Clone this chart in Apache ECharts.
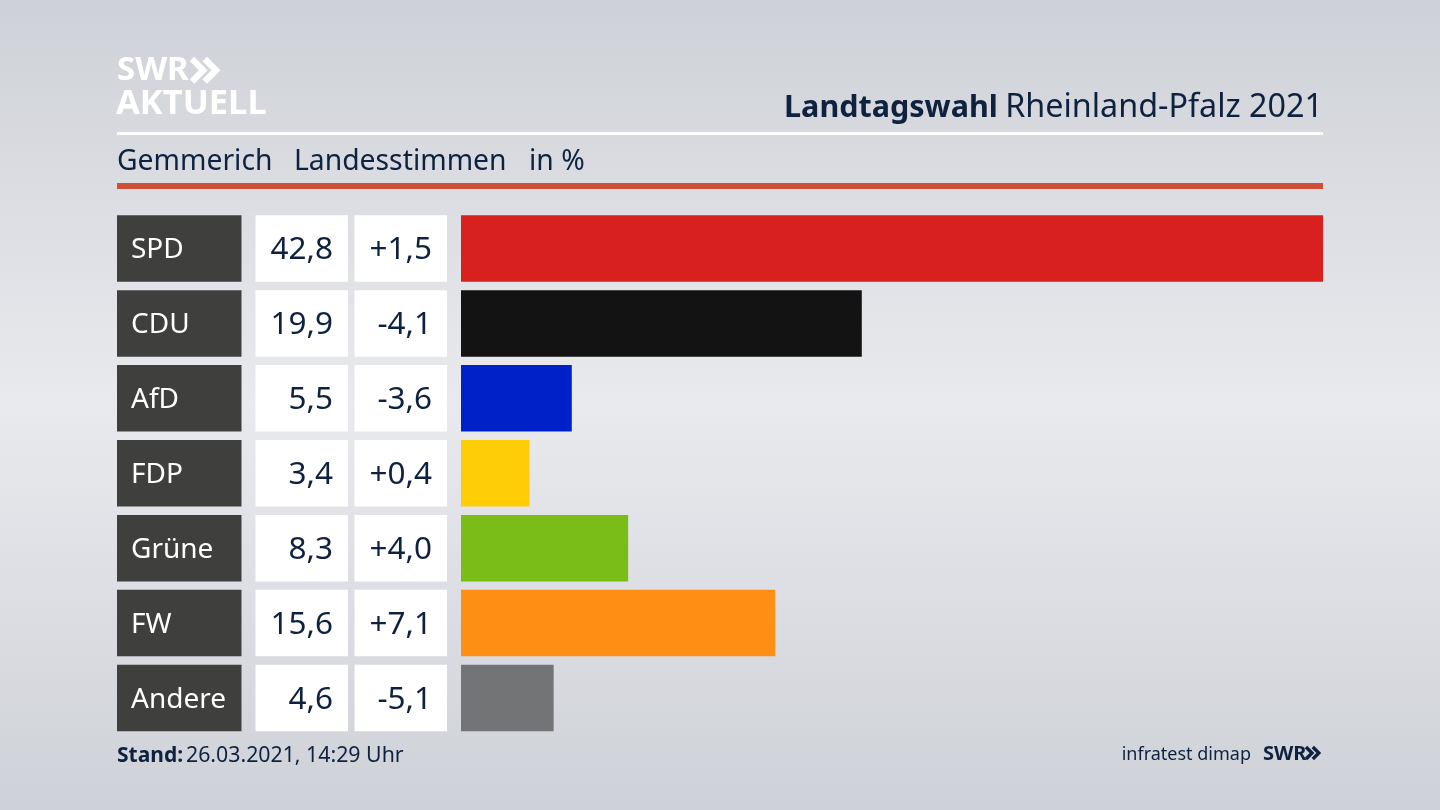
<!DOCTYPE html>
<html><head><meta charset="utf-8">
<style>html,body{margin:0;padding:0;width:1440px;height:810px;overflow:hidden}#c{width:1440px;height:810px}</style>
<script src="https://cdn.jsdelivr.net/npm/echarts@6/dist/echarts.min.js"></script>
</head><body><div id="c"></div>
<script>
const parties=['SPD','CDU','AfD','FDP','Grüne','FW','Andere'];
const shares=[42.8,19.9,5.5,3.4,8.3,15.6,4.6];
const shareLabels=['42,8','19,9','5,5','3,4','8,3','15,6','4,6'];
const changeLabels=['+1,5','-4,1','-3,6','+0,4','+4,0','+7,1','-5,1'];
const barColors=['#d8201f','#131313','#0020c8','#ffcc08','#7abd18','#ff8f14','#737476'];
const ink='#0e2240';
const font='"Noto Sans"';
const chart=echarts.init(document.getElementById('c'),null,{renderer:'canvas'});
const top0=211,h=524.5,bw=66.5;
function cell(i,left,width,color,labels,txt,pos,size,dist){
  return {grid:{left,width,top:top0,height:h},
    x:{type:'value',gridIndex:i,min:0,max:1,show:false},
    y:{type:'category',gridIndex:i,inverse:true,data:parties,show:false},
    s:{type:'bar',xAxisIndex:i,yAxisIndex:i,barWidth:bw,silent:true,animation:false,
      data:labels.map(()=>1),itemStyle:{color},
      label:{show:true,position:pos,distance:dist,offset:[0,2],color:txt,fontFamily:font,fontSize:size,
        formatter:p=>labels[p.dataIndex]}}};
}
const cells=[
  cell(1,117,124.5,'#3f403e',parties,'#fff','insideLeft',28,14),
  cell(2,255.5,92.5,'#fff',shareLabels,ink,'insideRight',31.5,15),
  cell(3,354.5,92.5,'#fff',changeLabels,ink,'insideRight',31.5,15)
];
function chevrons(x,y,s,color){
  return [0,1].map(k=>({type:'polyline',silent:true,
    shape:{points:[[x+k*s*0.85,y],[x+k*s*0.85+s*0.75,y+s*0.75],[x+k*s*0.85,y+s*1.5]]},
    style:{stroke:color,lineWidth:s*0.42,fill:null}}));
}
const txt=(x,y,text,size,color,weight,align)=>({type:'text',x,y,silent:true,
  style:{text,fontSize:size,fontFamily:font,fontWeight:weight||'normal',fill:color,align:align||'left',verticalAlign:'middle'}});
const rect=(x,y,width,height,fill)=>({type:'rect',silent:true,shape:{x,y,width,height},style:{fill}});
chart.setOption({
  animation:false,
  backgroundColor:new echarts.graphic.LinearGradient(0,0,0,1,[
    {offset:0,color:'#ced1d7'},{offset:0.5,color:'#e9eaee'},{offset:1,color:'#ced1d7'}]),
  grid:[{left:461,width:862,top:top0,height:h},...cells.map(c=>c.grid)],
  xAxis:[{type:'value',gridIndex:0,min:0,max:42.8,show:false},...cells.map(c=>c.x)],
  yAxis:[{type:'category',gridIndex:0,inverse:true,data:parties,show:false},...cells.map(c=>c.y)],
  series:[{type:'bar',xAxisIndex:0,yAxisIndex:0,barWidth:bw,silent:true,
    data:shares.map((v,i)=>({value:v,itemStyle:{color:barColors[i]}}))},...cells.map(c=>c.s)],
  graphic:{elements:[
    rect(117,132,1206,3,'#fff'),
    rect(117,183,1206,6,'#cd5037'),
    txt(117,71,'SWR',33,'#fff','bold'),
    ...chevrons(192,59,15,'#fff'),
    txt(116,104,'AKTUELL',34.5,'#fff','bold'),
    {type:'text',silent:true,x:1323,y:108,style:{
      text:'{b|Landtagswahl} {r|Rheinland-Pfalz 2021}',align:'right',verticalAlign:'middle',
      rich:{b:{fontFamily:font,fontWeight:'bold',fontSize:30.5,fill:ink,color:ink,padding:[0,4,0,0]},r:{fontFamily:font,fontSize:32.3,fill:ink,color:ink}}}},
    txt(117,162,'Gemmerich',28.3,ink),
    txt(294,162,'Landesstimmen',28.3,ink),
    txt(529,162,'in %',28.3,ink),
    txt(117,756,'Stand:',21,ink,'bold'),
    txt(186,756,'26.03.2021, 14:29 Uhr',21.3,ink),
    txt(1251,755,'infratest dimap',18,ink,'normal','right'),
    txt(1263,754,'SWR',20,ink,'bold'),
    ...chevrons(1306,747,8,ink)
  ]}
});
</script></body></html>
